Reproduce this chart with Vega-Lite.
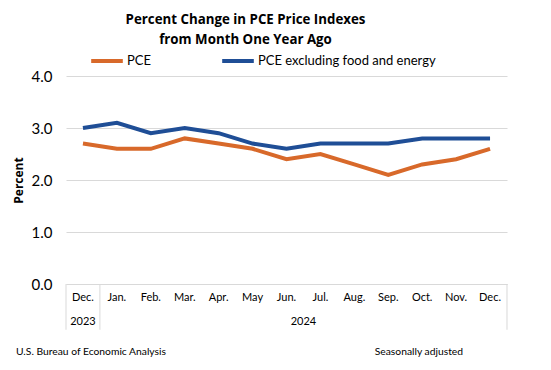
{
  "$schema": "https://vega.github.io/schema/vega-lite/v6.json",
  "width": 441,
  "height": 208,
  "autosize": {"type": "none"},
  "padding": {"left": 66, "top": 76, "right": 44, "bottom": 86},
  "background": "white",
  "config": {
    "view": {"stroke": null},
    "font": "Lato"
  },
  "title": {
    "text": ["Percent Change in PCE Price Indexes", "from Month One Year Ago"],
    "font": "Open Sans",
    "fontSize": 13.3,
    "fontWeight": "bold",
    "color": "#000000",
    "anchor": "middle",
    "dx": -41,
    "offset": -3,
    "lineHeight": 20
  },
  "datasets": {
    "series": [
      {"label": "Dec. 2023", "series": "PCE", "value": 2.7},
      {"label": "Jan.", "series": "PCE", "value": 2.6},
      {"label": "Feb.", "series": "PCE", "value": 2.6},
      {"label": "Mar.", "series": "PCE", "value": 2.8},
      {"label": "Apr.", "series": "PCE", "value": 2.7},
      {"label": "May", "series": "PCE", "value": 2.6},
      {"label": "Jun.", "series": "PCE", "value": 2.4},
      {"label": "Jul.", "series": "PCE", "value": 2.5},
      {"label": "Aug.", "series": "PCE", "value": 2.3},
      {"label": "Sep.", "series": "PCE", "value": 2.1},
      {"label": "Oct.", "series": "PCE", "value": 2.3},
      {"label": "Nov.", "series": "PCE", "value": 2.4},
      {"label": "Dec. 2024", "series": "PCE", "value": 2.6},
      {"label": "Dec. 2023", "series": "PCE excluding food and energy", "value": 3.0},
      {"label": "Jan.", "series": "PCE excluding food and energy", "value": 3.1},
      {"label": "Feb.", "series": "PCE excluding food and energy", "value": 2.9},
      {"label": "Mar.", "series": "PCE excluding food and energy", "value": 3.0},
      {"label": "Apr.", "series": "PCE excluding food and energy", "value": 2.9},
      {"label": "May", "series": "PCE excluding food and energy", "value": 2.7},
      {"label": "Jun.", "series": "PCE excluding food and energy", "value": 2.6},
      {"label": "Jul.", "series": "PCE excluding food and energy", "value": 2.7},
      {"label": "Aug.", "series": "PCE excluding food and energy", "value": 2.7},
      {"label": "Sep.", "series": "PCE excluding food and energy", "value": 2.7},
      {"label": "Oct.", "series": "PCE excluding food and energy", "value": 2.8},
      {"label": "Nov.", "series": "PCE excluding food and energy", "value": 2.8},
      {"label": "Dec. 2024", "series": "PCE excluding food and energy", "value": 2.8}
    ],
    "dividers": [
      {"label": "Dec. 2023", "edge": 0},
      {"label": "Dec. 2023", "edge": 1},
      {"label": "Dec. 2024", "edge": 1}
    ],
    "years": [
      {"label": "Dec. 2023", "year": "2023", "pos": 0.5},
      {"label": "Jul.", "year": "2024", "pos": 0}
    ]
  },
  "encoding": {
    "x": {
      "field": "label",
      "type": "nominal",
      "sort": ["Dec. 2023", "Jan.", "Feb.", "Mar.", "Apr.", "May", "Jun.", "Jul.", "Aug.", "Sep.", "Oct.", "Nov.", "Dec. 2024"],
      "scale": {"type": "band", "paddingInner": 0, "paddingOuter": 0,
        "domain": ["Dec. 2023", "Jan.", "Feb.", "Mar.", "Apr.", "May", "Jun.", "Jul.", "Aug.", "Sep.", "Oct.", "Nov.", "Dec. 2024"]},
      "axis": {
        "title": null,
        "labelAngle": 0,
        "labelExpr": "split(datum.label, ' ')[0]",
        "labelFont": "Lato",
        "labelFontSize": 11,
        "labelColor": "#000000",
        "labelPadding": 7,
        "ticks": false,
        "domain": true,
        "domainColor": "#d9d9d9",
        "domainWidth": 1,
        "grid": false
      }
    }
  },
  "layer": [
    {
      "data": {"name": "series"},
      "mark": {"type": "line", "strokeWidth": 4, "strokeCap": "butt", "strokeJoin": "miter"},
      "encoding": {
        "x": {"field": "label", "type": "nominal", "bandPosition": 0.5},
        "y": {
          "field": "value",
          "type": "quantitative",
          "scale": {"domain": [0, 4]},
          "axis": {
            "title": "Percent",
            "titleFont": "Open Sans",
            "titleFontSize": 12,
            "titleFontWeight": "bold",
            "titleColor": "#000000",
            "titlePadding": 6,
            "values": [0, 1, 2, 3, 4],
            "format": ".1f",
            "labelFont": "Lato",
            "labelFontSize": 15,
            "labelColor": "#000000",
            "labelPadding": 14,
            "ticks": false,
            "domain": false,
            "grid": true,
            "gridColor": "#d9d9d9",
            "gridWidth": 1
          }
        },
        "color": {
          "field": "series",
          "type": "nominal",
          "scale": {"domain": ["PCE", "PCE excluding food and energy"], "range": ["#d8692a", "#1f4e96"]},
          "legend": {
            "title": null,
            "orient": "none",
            "direction": "horizontal",
            "legendX": 23,
            "legendY": -33,
            "symbolType": "stroke",
            "symbolSize": 1000,
            "symbolStrokeWidth": 4,
            "labelFont": "Lato",
            "labelFontSize": 13,
            "labelColor": "#000000",
            "labelOffset": 2,
            "columnPadding": 63,
            "labelLimit": 300
          }
        }
      }
    },
    {
      "data": {"name": "dividers"},
      "mark": {"type": "rule", "color": "#d9d9d9", "strokeWidth": 1},
      "encoding": {
        "x": {"field": "label", "type": "nominal", "bandPosition": 0},
        "xOffset": {"field": "edge", "type": "quantitative", "scale": {"domain": [0, 1], "range": [0, 33.92]}},
        "y": {"datum": 0},
        "y2": {"datum": -0.88}
      }
    },
    {
      "data": {"name": "years"},
      "mark": {"type": "text", "font": "Lato", "fontSize": 11, "color": "#000000", "baseline": "middle", "align": "center"},
      "encoding": {
        "x": {"field": "label", "type": "nominal", "bandPosition": 0},
        "xOffset": {"field": "pos", "type": "quantitative", "scale": {"domain": [0, 1], "range": [0, 33.92]}},
        "y": {"datum": -0.74},
        "text": {"field": "year"}
      }
    },
    {
      "data": {"values": [{"note": "U.S. Bureau of Economic Analysis", "label": "Dec. 2023"}]},
      "mark": {"type": "text", "font": "Lato", "fontSize": 10.3, "color": "#000000", "align": "left", "baseline": "middle", "dx": -50},
      "encoding": {
        "x": {"field": "label", "type": "nominal", "bandPosition": 0},
        "y": {"datum": -1.31},
        "text": {"field": "note"}
      }
    },
    {
      "data": {"values": [{"note": "Seasonally adjusted", "label": "Dec. 2024"}]},
      "mark": {"type": "text", "font": "Lato", "fontSize": 10.3, "color": "#000000", "align": "right", "baseline": "middle", "dx": -44},
      "encoding": {
        "x": {"field": "label", "type": "nominal", "bandPosition": 1},
        "y": {"datum": -1.31},
        "text": {"field": "note"}
      }
    }
  ]
}
